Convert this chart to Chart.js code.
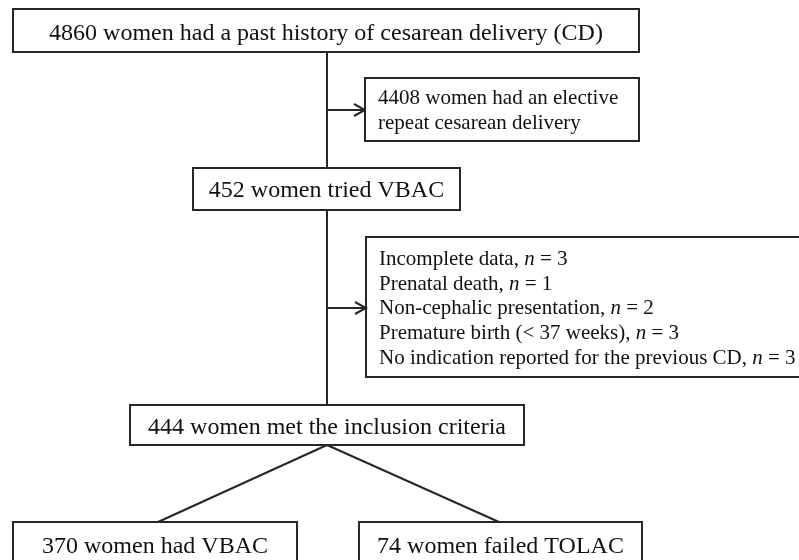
<!DOCTYPE html>
<html><head><meta charset="utf-8">
<script src="https://cdn.jsdelivr.net/npm/chart.js@4.4.1/dist/chart.umd.min.js"></script>
<style>html,body{margin:0;padding:0;background:#fff;}canvas{display:block;}</style>
</head><body>
<canvas id="c" width="799" height="560"></canvas>
<script>
// ---- data ----
const stageCounts = [4860, 4408, 452, 444, 370, 74];
const stageTexts = [
  'women had a past history of cesarean delivery (CD)',
  'women had an elective|repeat cesarean delivery',
  'women tried VBAC',
  'women met the inclusion criteria',
  'women had VBAC',
  'women failed TOLAC'
];
const exclusionReasons = [
  'Incomplete data',
  'Prenatal death',
  'Non-cephalic presentation',
  'Premature birth (< 37 weeks)',
  'No indication reported for the previous CD'
];
const exclusionCounts = [3, 1, 2, 3, 3];

// ---- layout (diagram units = pixels of the 799x560 frame) ----
const boxes = [
  {x0: 13,  y0: 9,   x1: 639, y1: 52,  align: 'center', size: 24, base: [40]},
  {x0: 365, y0: 78,  x1: 639, y1: 141, align: 'left',   size: 21, base: [104, 129], tx: 378},
  {x0: 193, y0: 168, x1: 460, y1: 210, align: 'center', size: 24, base: [197]},
  {x0: 130, y0: 405, x1: 524, y1: 445, align: 'center', size: 24, base: [434]},
  {x0: 13,  y0: 522, x1: 297, y1: 566, align: 'center', size: 24, base: [553]},
  {x0: 359, y0: 522, x1: 642, y1: 566, align: 'center', size: 24, base: [553]}
];
const exclBox = {x0: 366, y0: 237, x1: 802, y1: 377, size: 21, tx: 379, base0: 265, step: 24.7};
const spineX = 327;
const arrows = [{y: 110, x1: 365}, {y: 308, x1: 366}];
const FONT = '"Liberation Serif", "Times New Roman", serif';
const INK = '#262626';

const flowPlugin = {
  id: 'flow',
  beforeDraw(chart) {
    const c = chart.ctx;
    c.save();
    c.fillStyle = '#fff';
    c.fillRect(0, 0, chart.width, chart.height);
    c.restore();
  },
  afterDraw(chart) {
    const xs = chart.scales.x, ys = chart.scales.y;
    const X = v => xs.getPixelForValue(v), Y = v => ys.getPixelForValue(v);
    const c = chart.ctx;
    c.save();
    c.strokeStyle = INK;
    c.fillStyle = '#111';
    c.lineWidth = 2;
    c.lineCap = 'butt';

    // connectors
    const line = (ax, ay, bx, by) => { c.beginPath(); c.moveTo(X(ax), Y(ay)); c.lineTo(X(bx), Y(by)); c.stroke(); };
    line(spineX, boxes[0].y1, spineX, boxes[2].y0);
    line(spineX, boxes[2].y1, spineX, boxes[3].y0);
    arrows.forEach(a => {
      line(spineX, a.y, a.x1, a.y);
      c.beginPath();
      c.moveTo(X(a.x1 - 11), Y(a.y - 6));
      c.lineTo(X(a.x1), Y(a.y));
      c.lineTo(X(a.x1 - 11), Y(a.y + 6));
      c.stroke();
    });
    line(spineX, boxes[3].y1, 158, boxes[4].y0);
    line(spineX, boxes[3].y1, 499, boxes[5].y0);

    // boxes
    const rect = b => { c.strokeRect(X(b.x0), Y(b.y0), X(b.x1) - X(b.x0), Y(b.y1) - Y(b.y0)); };
    c.textBaseline = 'alphabetic';
    boxes.forEach((b, i) => {
      c.fillStyle = '#fff';
      c.fillRect(X(b.x0), Y(b.y0), X(b.x1) - X(b.x0), Y(b.y1) - Y(b.y0));
      rect(b);
      c.fillStyle = '#111';
      c.font = b.size + 'px ' + FONT;
      const lines = (stageCounts[i] + ' ' + stageTexts[i]).split('|');
      lines.forEach((t, k) => {
        if (b.align === 'center') {
          c.textAlign = 'center';
          c.fillText(t, X((b.x0 + b.x1) / 2), Y(b.base[k]));
        } else {
          c.textAlign = 'left';
          c.fillText(t, X(b.tx), Y(b.base[k]));
        }
      });
    });

    // exclusion box
    rect(exclBox);
    c.textAlign = 'left';
    exclusionReasons.forEach((r, k) => {
      const segs = [[r + ', ', false], ['n', true], [' = ' + exclusionCounts[k], false]];
      let x = X(exclBox.tx);
      const y = Y(exclBox.base0 + k * exclBox.step);
      segs.forEach(([t, it]) => {
        c.font = (it ? 'italic ' : '') + exclBox.size + 'px ' + FONT;
        c.fillText(t, x, y);
        x += c.measureText(t).width;
      });
    });
    c.restore();
  }
};

new Chart(document.getElementById('c'), {
  type: 'scatter',
  data: { datasets: [{ data: [], pointRadius: 0 }] },
  options: {
    responsive: false,
    animation: false,
    devicePixelRatio: 1,
    layout: { padding: 0 },
    plugins: { legend: { display: false }, tooltip: { enabled: false } },
    scales: {
      x: { type: 'linear', min: 0, max: 799, display: false },
      y: { type: 'linear', min: 0, max: 560, reverse: true, display: false }
    }
  },
  plugins: [flowPlugin]
});
</script>
</body></html>
